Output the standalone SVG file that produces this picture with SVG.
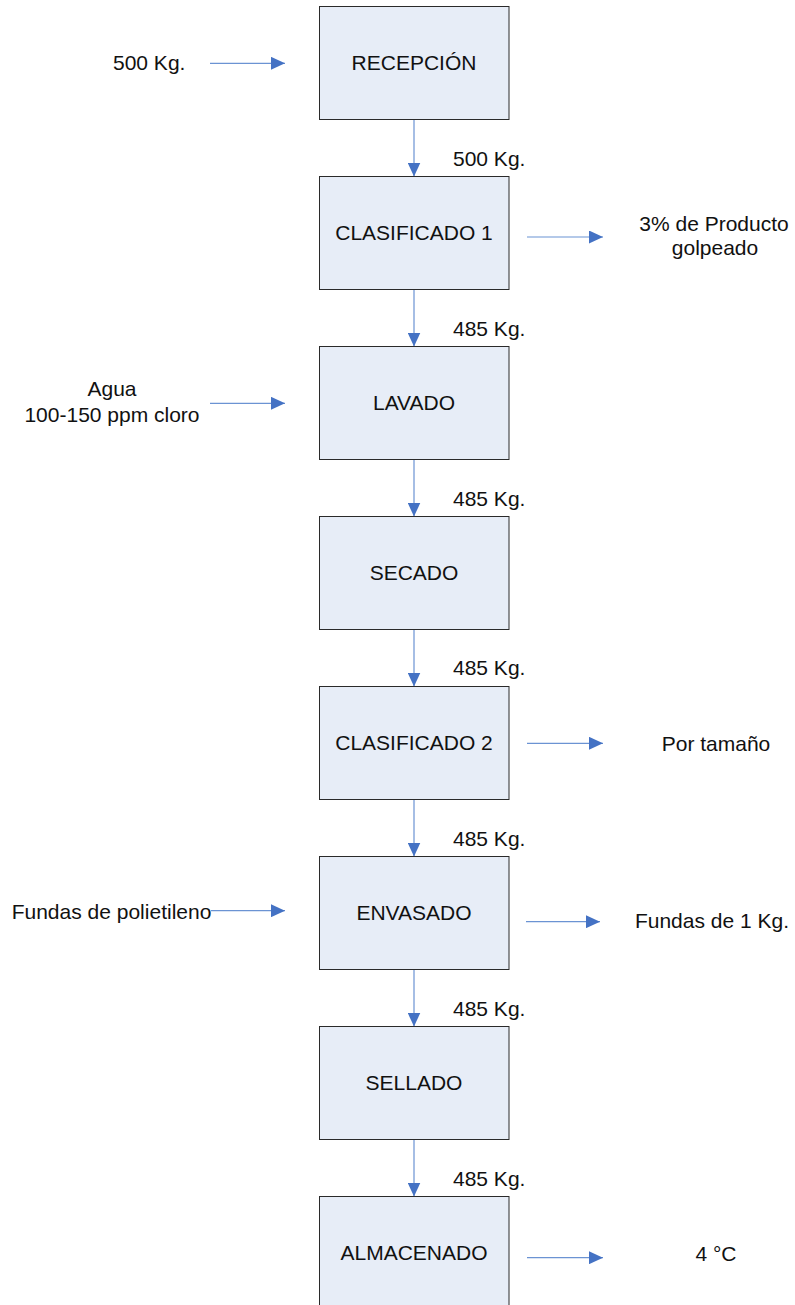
<svg xmlns="http://www.w3.org/2000/svg" width="795" height="1305" viewBox="0 0 795 1305">
<style>
.box{fill:#e7edf7;stroke:#2a2a2a;stroke-width:1}
.t{font-family:"Liberation Sans",Arial,sans-serif;font-size:21px;fill:#111}
.m{text-anchor:middle}
.c{stroke:#6b93d3;stroke-width:1.2;fill:none;marker-end:url(#ah)}
</style>
<defs>
<marker id="ah" markerUnits="userSpaceOnUse" markerWidth="14" markerHeight="13" refX="14" refY="6.5" orient="auto">
<path d="M0,0 L14,6.5 L0,13 z" fill="#4472c4"/>
</marker>
</defs>
<rect width="795" height="1305" fill="#fff"/>
<g id="connectors">
<line class="c" x1="414" y1="119.5" x2="414" y2="176.5"/>
<line class="c" x1="414" y1="289.5" x2="414" y2="346.5"/>
<line class="c" x1="414" y1="459.5" x2="414" y2="516.5"/>
<line class="c" x1="414" y1="629.5" x2="414" y2="686.5"/>
<line class="c" x1="414" y1="799.5" x2="414" y2="856.5"/>
<line class="c" x1="414" y1="969.5" x2="414" y2="1026.5"/>
<line class="c" x1="414" y1="1139.5" x2="414" y2="1196.5"/>
<line class="c" x1="210" y1="63.3" x2="285" y2="63.3"/>
<line class="c" x1="210" y1="403.3" x2="285" y2="403.3"/>
<line class="c" x1="211" y1="910.7" x2="285" y2="910.7"/>
<line class="c" x1="527" y1="237" x2="603" y2="237"/>
<line class="c" x1="527" y1="743.3" x2="603" y2="743.3"/>
<line class="c" x1="526" y1="921.7" x2="600" y2="921.7"/>
<line class="c" x1="527" y1="1257.7" x2="603" y2="1257.7"/>
</g>
<g id="recepcion"><rect class="box" x="319.5" y="6.5" width="189.5" height="113"/><text class="t m" x="414" y="70">RECEPCIÓN</text></g>
<g id="clasificado1"><rect class="box" x="319.5" y="176.5" width="189.5" height="113"/><text class="t m" x="414" y="240">CLASIFICADO 1</text></g>
<g id="lavado"><rect class="box" x="319.5" y="346.5" width="189.5" height="113"/><text class="t m" x="414" y="410">LAVADO</text></g>
<g id="secado"><rect class="box" x="319.5" y="516.5" width="189.5" height="113"/><text class="t m" x="414" y="580">SECADO</text></g>
<g id="clasificado2"><rect class="box" x="319.5" y="686.5" width="189.5" height="113"/><text class="t m" x="414" y="750">CLASIFICADO 2</text></g>
<g id="envasado"><rect class="box" x="319.5" y="856.5" width="189.5" height="113"/><text class="t m" x="414" y="920">ENVASADO</text></g>
<g id="sellado"><rect class="box" x="319.5" y="1026.5" width="189.5" height="113"/><text class="t m" x="414" y="1090">SELLADO</text></g>
<g id="almacenado"><rect class="box" x="319.5" y="1196.5" width="189.5" height="120"/><text class="t m" x="414" y="1260">ALMACENADO</text></g>
<g id="labels">
<text class="t" x="113" y="70">500 Kg.</text>
<text class="t" x="453" y="166">500 Kg.</text>
<text class="t" x="453" y="336">485 Kg.</text>
<text class="t" x="453" y="506">485 Kg.</text>
<text class="t" x="453" y="675">485 Kg.</text>
<text class="t" x="453" y="846">485 Kg.</text>
<text class="t" x="453" y="1016">485 Kg.</text>
<text class="t" x="453" y="1186">485 Kg.</text>
<text class="t m" x="714" y="231">3% de Producto</text>
<text class="t m" x="715" y="255">golpeado</text>
<text class="t m" x="112" y="396">Agua</text>
<text class="t m" x="112" y="422">100-150 ppm cloro</text>
<text class="t m" x="716" y="751">Por tamaño</text>
<text class="t" x="11.7" y="919.3">Fundas de polietileno</text>
<text class="t m" x="712" y="928">Fundas de 1 Kg.</text>
<text class="t m" x="716" y="1261">4 °C</text>
</g>
</svg>
